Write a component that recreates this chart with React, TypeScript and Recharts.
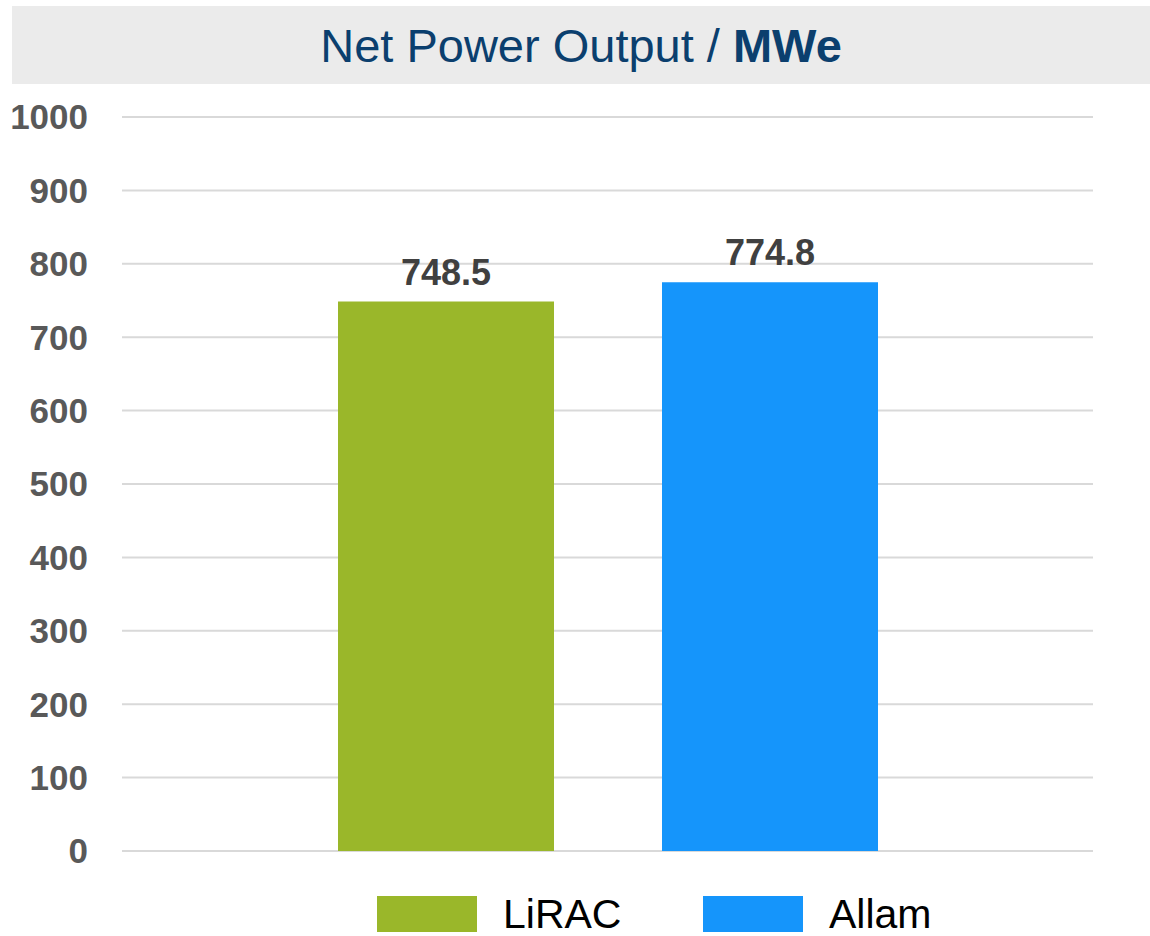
import { BarChart, Bar, XAxis, YAxis, CartesianGrid, LabelList } from "recharts";

const FONT = "'Liberation Sans', Arial, sans-serif";

const SERIES = ["LiRAC", "Allam"];
const VALUES = [748.5, 774.8];
const COLORS = ["#9AB72A", "#1595FB"];
const Y_TICKS = [0, 100, 200, 300, 400, 500, 600, 700, 800, 900, 1000];

const data = [
  SERIES.reduce<Record<string, number | string>>((row, s, i) => {
    row[s] = VALUES[i];
    return row;
  }, { name: "Net Power Output" }),
];

export default function App() {
  return (
    <div style={{ position: "absolute", left: 0, top: 0, width: 1150, height: 936, background: "#fff", fontFamily: FONT }}>
      {/* title band */}
      <div
        style={{
          position: "absolute", left: 12, top: 6, width: 1138, height: 78,
          background: "#ebebeb", color: "#0b3f6e", fontSize: 47,
          display: "flex", alignItems: "center", justifyContent: "center",
        }}>
        <span>Net Power Output / <b>MWe</b></span>
      </div>

      <BarChart
        width={1150}
        height={936}
        data={data}
        margin={{ top: 117, right: 57, left: 12, bottom: 85 }}
        barGap={108}
        barSize={216}
        style={{ position: "absolute", left: 0, top: 0 }}>
        <CartesianGrid vertical={false} stroke="#d9d9d9" strokeWidth={2} />
        <XAxis dataKey="name" hide />
        <YAxis
          width={110}
          domain={[0, 1000]}
          ticks={Y_TICKS}
          interval={0}
          axisLine={false}
          tickLine={false}
          tickSize={0}
          tickMargin={34}
          tick={{ fill: "#595959", fontSize: 35, fontWeight: "bold", fontFamily: FONT }}
        />
        {SERIES.map((s, i) => (
          <Bar key={s} dataKey={s} fill={COLORS[i]} isAnimationActive={false}>
            <LabelList
              dataKey={s}
              position="top"
              offset={17}
              fill="#404040"
              style={{ fontSize: 36, fontWeight: "bold", fontFamily: FONT }}
            />
          </Bar>
        ))}
      </BarChart>

      {/* legend */}
      <div style={{ position: "absolute", left: 377, top: 896, display: "flex" }}>
        {SERIES.map((s, i) => (
          <div key={s} style={{ display: "flex", alignItems: "center", width: i === 0 ? 326 : undefined }}>
            <div style={{ width: 100, height: 36, background: COLORS[i] }} />
            <span style={{ marginLeft: 26, fontSize: 41, color: "#000", lineHeight: "30px" }}>{s}</span>
          </div>
        ))}
      </div>
    </div>
  );
}
